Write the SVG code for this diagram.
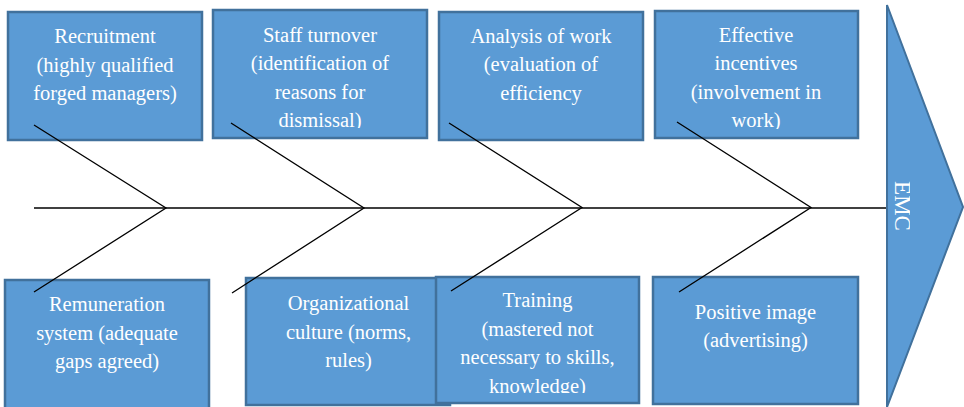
<svg xmlns="http://www.w3.org/2000/svg" width="964" height="407" viewBox="0 0 964 407">
<style>
.box{fill:#5B9BD5;stroke:#41719C;stroke-width:2.5}
.t{font-family:'Liberation Serif','DejaVu Serif',serif;font-size:20.5px;fill:#ffffff;text-anchor:middle}
.ln{stroke:#000;stroke-width:1.3;fill:none}
</style>
<defs>
<clipPath id="c2"><rect x="213" y="10" width="214" height="118"/></clipPath>
<clipPath id="c4"><rect x="655" y="11" width="203" height="118"/></clipPath>
<clipPath id="c7"><rect x="436" y="277" width="203" height="116"/></clipPath>
<clipPath id="cE"><rect x="890" y="150" width="20" height="120"/></clipPath>
</defs>
<rect width="964" height="407" fill="#ffffff"/>
<g id="n1"><rect class="box" x="8" y="12" width="194" height="128"/>
<text class="t"><tspan x="105" y="43">Recruitment</tspan><tspan x="105" y="71.5">(highly qualified</tspan><tspan x="105" y="100">forged managers)</tspan></text></g>
<g id="n2"><rect class="box" x="213" y="10" width="214" height="128"/>
<text class="t" clip-path="url(#c2)"><tspan x="320" y="42">Staff turnover</tspan><tspan x="320" y="70">(identification of</tspan><tspan x="320" y="98.5">reasons for</tspan><tspan x="320" y="127">dismissal)</tspan></text></g>
<g id="n3"><rect class="box" x="439" y="12" width="204" height="128"/>
<text class="t"><tspan x="541" y="43">Analysis of work</tspan><tspan x="541" y="71">(evaluation of</tspan><tspan x="541" y="99.5">efficiency</tspan></text></g>
<g id="n4"><rect class="box" x="655" y="11" width="203" height="127"/>
<text class="t" clip-path="url(#c4)"><tspan x="756" y="41.5">Effective</tspan><tspan x="756" y="70">incentives</tspan><tspan x="756" y="98.5">(involvement in</tspan><tspan x="756" y="127">work)</tspan></text></g>
<g id="n5"><rect class="box" x="5" y="280" width="204" height="130"/>
<text class="t"><tspan x="107" y="311">Remuneration</tspan><tspan x="107" y="339.5">system (adequate</tspan><tspan x="107" y="368">gaps agreed)</tspan></text></g>
<g id="n6"><rect class="box" x="246" y="278" width="204" height="127"/>
<text class="t"><tspan x="348.5" y="310">Organizational</tspan><tspan x="348.5" y="338.5">culture (norms,</tspan><tspan x="348.5" y="367">rules)</tspan></text></g>
<g id="n7"><rect class="box" x="436" y="277" width="203" height="126"/>
<text class="t" clip-path="url(#c7)"><tspan x="537.5" y="307">Training</tspan><tspan x="537.5" y="335.5">(mastered not</tspan><tspan x="537.5" y="364">necessary to skills,</tspan><tspan x="537.5" y="392.5">knowledge)</tspan></text></g>
<g id="n8"><rect class="box" x="653" y="277" width="205" height="127"/>
<text class="t"><tspan x="755.5" y="318.5">Positive image</tspan><tspan x="755.5" y="347">(advertising)</tspan></text></g>
<g id="connectors">
<line class="ln" x1="34" y1="208" x2="887" y2="208"/>
<polyline class="ln" points="34,125 166,208 34,292"/>
<polyline class="ln" points="231,123 364,208 232,293"/>
<polyline class="ln" points="449,123 582,207.5 451,291"/>
<polyline class="ln" points="677,122 811,207.5 679,292"/>
</g>
<g id="emc">
<polygon points="887,5 963,207 887,407" fill="#5B9BD5" stroke="#41719C" stroke-width="2"/>
<g clip-path="url(#cE)"><text class="t" transform="translate(895,206) rotate(90)" style="font-size:23px">EMC</text></g>
</g>
</svg>
